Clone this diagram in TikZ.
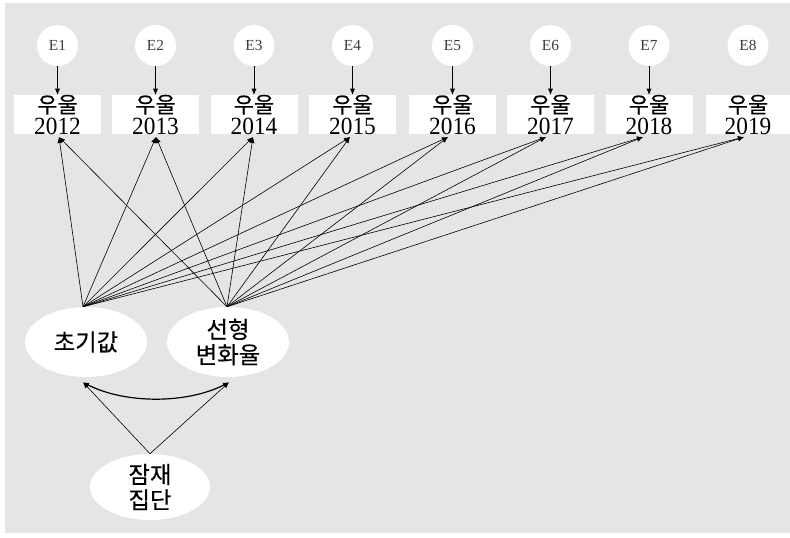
\documentclass[tikz,border=0pt]{standalone}
\usepackage{fontspec}
\setmainfont{Liberation Serif}
\newfontfamily\kr[FakeBold=0.35]{Noto Sans CJK KR}
\usetikzlibrary{shapes.geometric,arrows.meta,calc}
\definecolor{bggray}{RGB}{230,229,230}
\definecolor{egray}{RGB}{60,60,60}
\begin{document}
\begin{tikzpicture}[x=0.75pt,y=-0.75pt,
  err/.style={circle,fill=white,minimum size=30.75pt,inner sep=0pt,font=\fontsize{11.5}{12}\selectfont,text=egray},
  obs/.style={rectangle,fill=white,minimum height=29.25pt,inner sep=0pt},
  obstext/.style={align=center,inner sep=0pt,font=\fontsize{17.5}{16.5}\selectfont},
  lat/.style={ellipse,fill=white,minimum width=91.5pt,minimum height=52.5pt,inner sep=0pt,align=center,font=\kr\fontsize{17.5}{19}\selectfont},
  reg/.style={-{Latex[length=4.5pt,width=3.8pt]},line width=0.45pt},
  cov/.style={{Latex[length=4.5pt,width=3.8pt]}-{Latex[length=4.5pt,width=3.8pt]},line width=0.9pt},
]
\useasboundingbox (0,0) rectangle (790,537);
\fill[bggray] (5,3) rectangle (790,533);

% error terms, observed boxes
\foreach \i/\x/\w/\tx in {1/57.5/65.25/59, 2/155.5/65.25/156, 3/254/65.25/253, 4/352.5/65.25/350, 5/452.5/65.25/448, 6/550.5/65.25/546, 7/649/65.25/643, 8/748/63/744}{
  \pgfmathtruncatemacro\yr{2011+\i}
  \node[err] (e\i) at (\x,45.5) {E\i};
  \node[obs,minimum width=\w pt] (b\i) at (\x,114.5) {};
  \node[obstext] (t\i) at (\x,115) {{\kr\fontsize{16.5}{16.5}\selectfont 우울}\\\scalebox{1}[1.06]{\yr}};
  \coordinate (p\i) at (\tx,137);
}
\foreach \i in {1,...,7}{
  \draw[reg] (e\i.south) -- (b\i.north);
}

% latent nodes
\node[lat] (init) at (86,342) {초기값};
\node[lat] (rate) at (228,342) {선형\\변화율};
\node[lat,minimum width=90pt,minimum height=49.5pt] (grp) at (150,487) {잠재\\집단};

\coordinate (si) at ($(init.north)+(-3,0)$);
\coordinate (sr) at ($(rate.north)+(-1,0)$);
\foreach \i in {1,...,8}{
  \draw[reg] (si) -- (p\i);
  \draw[reg] (sr) -- (p\i);
}

\coordinate (gi) at ($(init.south)+(-3,5)$);
\coordinate (gr) at ($(rate.south)+(1,5)$);
\draw[reg] (grp.north) -- (gi);
\draw[reg] (grp.north) -- (gr);
\draw[cov] (gi) .. controls (125,404) and (187,404) .. (gr);
\end{tikzpicture}
\end{document}
